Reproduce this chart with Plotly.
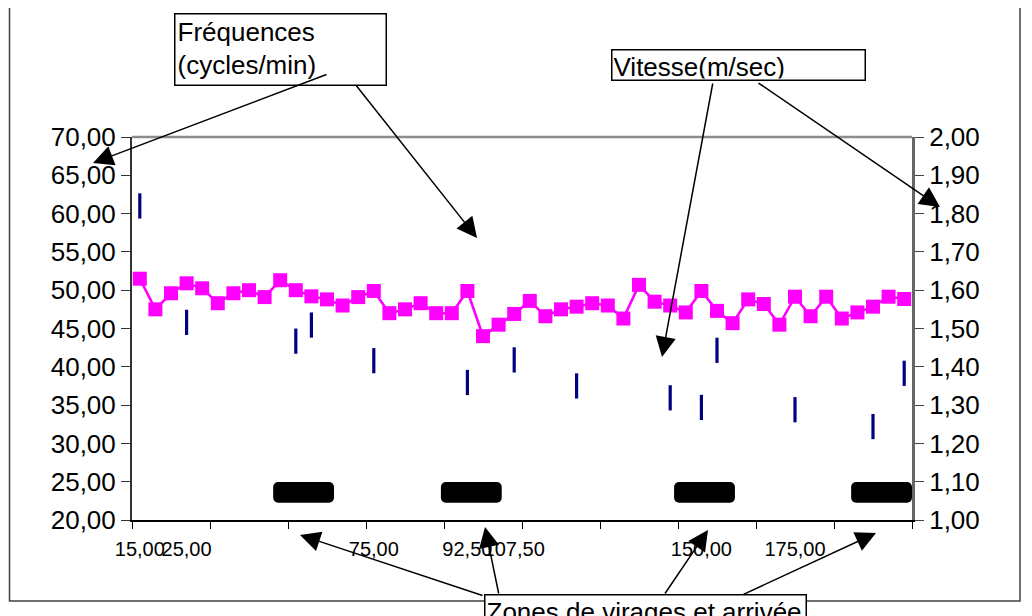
import plotly.graph_objects as go

# ---------------- data ----------------
cats = list(range(50))
freq = [51.5, 47.5, 49.6, 50.9, 50.25, 48.3, 49.6, 50.0, 49.1, 51.3,
        50.0, 49.2, 48.8, 48.0, 49.1, 49.9, 47.0, 47.5, 48.3, 47.0,
        47.0, 49.9, 44.0, 45.5, 46.9, 48.6, 46.6, 47.5, 47.85, 48.3,
        48.0, 46.3, 50.7, 48.5, 48.0, 47.1, 49.9, 47.3, 45.7, 48.8,
        48.2, 45.5, 49.15, 46.6, 49.15, 46.3, 47.1, 47.85, 49.15, 48.85]

vel_cats = [0, 3, 10, 11, 15, 21, 24, 28, 34, 36, 37, 42, 47, 49]
vel = [1.82, 1.516, 1.467, 1.509, 1.416, 1.359, 1.418, 1.350,
       1.319, 1.294, 1.443, 1.288, 1.244, 1.383]

zone_start = [8.55, 19.3, 34.25, 45.6]
zone_end = [12.45, 23.2, 38.15, 49.5]
zone_level = 23.6

label_cats = [0, 3, 15, 21, 24, 36, 42]
label_text = ["15,00", "25,00", "75,00", "92,50", "107,50", "150,00", "175,00"]
boundaries = [c - 0.5 for c in range(0, 51, 5)]

FONT = "Arial, Liberation Sans, sans-serif"

# ---------------- layout geometry ----------------
# the page has an 8px body margin, so figure coords = picture coords - 8
OFF = 8
FW, FH = 1032, 616
L, T = 132 - OFF, 137 - OFF
W, H = 780, 383
R = FW - L - W
B = FH - T - H


def px(x):
    return (x - OFF - L) / W


def py(y):
    return (T + H - (y - OFF)) / H


fig = go.Figure()

fig.add_trace(go.Bar(
    orientation="h", y=[zone_level] * len(zone_start),
    x=[e - s for s, e in zip(zone_start, zone_end)], base=zone_start,
    width=2.7, marker=dict(color="black", line=dict(width=0)),
    xaxis="x", yaxis="y", showlegend=False))

fig.add_trace(go.Scatter(
    x=cats, y=freq, mode="lines+markers",
    line=dict(color="#FF00FF", width=2.6),
    marker=dict(symbol="square", size=14, color="#FF00FF"),
    xaxis="x", yaxis="y", showlegend=False))

fig.add_trace(go.Scatter(
    x=vel_cats, y=vel, mode="markers",
    marker=dict(symbol="line-ns", size=18,
                line=dict(width=3.2, color="#000080")),
    xaxis="x", yaxis="y2", showlegend=False))

axcommon = dict(showgrid=False, zeroline=False)

fig.update_layout(
    width=FW, height=FH,
    margin=dict(l=L, r=R, t=T, b=B, pad=0),
    paper_bgcolor="white", plot_bgcolor="white",
    separators=", ",
    font=dict(family=FONT, color="black"),
    barmode="overlay", barcornerradius=5,
    xaxis=dict(type="linear", range=[-0.5, 49.5], tickmode="array",
               tickvals=label_cats, ticktext=label_text, ticks="",
               tickangle=0,
               tickfont=dict(size=20, family=FONT), ticklabelstandoff=10,
               showline=True, linecolor="black", linewidth=2,
               minor=dict(tickmode="array", tickvals=boundaries, ticks="outside",
                          ticklen=7, tickwidth=1, tickcolor="black"),
               **axcommon),
    xaxis2=dict(type="linear", range=[-0.5, 49.5], overlaying="x", anchor="y",
                side="bottom", tickmode="array", tickvals=boundaries,
                ticks="inside", ticklen=7, tickwidth=1, tickcolor="black",
                showticklabels=False, showline=False, **axcommon),
    yaxis=dict(type="linear", range=[20, 70], dtick=5, tick0=20,
               tickformat=".2f", ticks="outside", ticklen=9, tickwidth=1,
               tickcolor="#333", tickfont=dict(size=26, family=FONT),
               showline=True, linecolor="#333", linewidth=2, **axcommon),
    yaxis2=dict(type="linear", range=[1, 2], dtick=0.1, tick0=1,
                overlaying="y", side="right", anchor="x",
                tickformat=".2f", ticks="outside", ticklen=9, tickwidth=1,
                tickcolor="#444", tickfont=dict(size=26, family=FONT),
                showline=True, linecolor="#666", linewidth=3, **axcommon),
    yaxis3=dict(type="linear", range=[20, 70], dtick=5, tick0=20,
                overlaying="y", side="left", anchor="x", ticks="inside",
                ticklen=9, tickwidth=1, tickcolor="#333",
                showticklabels=False, showline=False, **axcommon),
    yaxis4=dict(type="linear", range=[1, 2], dtick=0.1, tick0=1,
                overlaying="y", side="right", anchor="x", ticks="inside",
                ticklen=9, tickwidth=1, tickcolor="#444",
                showticklabels=False, showline=False, **axcommon),
)

# top border line of plot area and outer frame
shapes = [
    dict(type="line", xref="paper", yref="paper", x0=0, x1=1, y0=1, y1=1,
         line=dict(color="#8c8c8c", width=2.5)),
    dict(type="rect", xref="paper", yref="paper", x0=px(9.5), x1=px(1020),
         y0=py(601), y1=py(3), line=dict(color="#404040", width=1.5)),
    dict(type="line", xref="paper", yref="paper", x0=px(5), x1=px(5),
         y0=py(600), y1=py(5), line=dict(color="#404040", width=1.5)),
]
fig.update_layout(shapes=shapes)

box = dict(xref="paper", yref="paper", xanchor="left", yanchor="top",
           align="left", valign="top", showarrow=False, bgcolor="white",
           bordercolor="black", borderwidth=1.5)
annotations = [
    dict(x=px(174), y=py(13), text="Fréquences<br>(cycles/min)",
         width=206, height=66, borderpad=2, font=dict(size=26, family=FONT),
         **box),
    dict(x=px(611), y=py(49), text="Vitesse(m/sec)",
         width=250, height=27, borderpad=1, font=dict(size=26, family=FONT),
         **box),
    dict(x=px(484), y=py(594), text="Zones de virages et arrivée",
         width=318, height=32, borderpad=1, font=dict(size=26, family=FONT),
         **box),
]

arrows = [
    ((328, 74), (93, 163)),
    ((355, 84), (477, 238)),
    ((713, 82), (662, 357)),
    ((757, 82), (940, 207)),
    ((484, 596), (300, 535)),
    ((499, 595), (485, 527)),
    ((664, 595), (708, 530)),
    ((742, 595), (876, 533)),
]
for (tx, ty), (hx, hy) in arrows:
    annotations.append(dict(
        x=px(hx), y=py(hy), xref="paper", yref="paper",
        ax=tx - hx, ay=ty - hy, axref="pixel", ayref="pixel",
        text="", showarrow=True, arrowhead=2, arrowsize=2.7,
        arrowwidth=1.5, arrowcolor="black", standoff=0))

fig.update_layout(annotations=annotations)

fig.write_html("out.html")
